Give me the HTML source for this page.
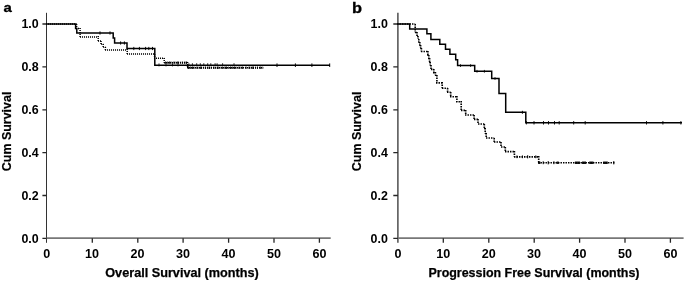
<!DOCTYPE html>
<html><head><meta charset="utf-8">
<style>
html,body{margin:0;padding:0;background:#fff;}
body{width:685px;height:281px;overflow:hidden;}
svg{display:block;filter:grayscale(1);}
text{font-family:"Liberation Sans",sans-serif;font-weight:bold;fill:#000;}
.lb{font-size:12.4px;stroke:#000;stroke-width:0.25;}
.yl{font-size:13.6px;stroke:#000;stroke-width:0.2;}
.tk{font-size:12.7px;}
.ax{fill:none;}
.va{stroke:#333;stroke-width:1.05;}
.vb{stroke:#3a3a3a;stroke-width:1.35;}
.ha{stroke:#777;stroke-width:1.6;}
.tm{stroke:#262626;stroke-width:1.3;}
.s{stroke:#000;stroke-width:1.5;fill:none;stroke-linejoin:miter;}
.d{stroke:#000;stroke-width:1.5;fill:none;stroke-dasharray:1.05 0.95;}
.db{stroke-dasharray:1.45 1.05;stroke-width:1.65;}
.cb2{stroke:#000;stroke-width:2.4;fill:none;opacity:0.9;}
.cb{stroke:#000;stroke-width:2.4;fill:none;stroke-dasharray:1.3 0.9 0.8 0.7 1.8 1 0.7 1.2;opacity:0.9;}
.c2{stroke:#000;stroke-width:0.8;fill:none;}
.c{stroke:#000;stroke-width:0.95;fill:none;}
</style></head><body>
<svg width="685" height="281" viewBox="0 0 685 281">
<rect width="685" height="281" fill="#fff"/>
<g opacity="0.999">

<!-- ===== Panel A ===== -->
<text x="3.4" y="12.4" font-size="13" textLength="8.3" lengthAdjust="spacingAndGlyphs" stroke="#000" stroke-width="0.3">a</text>
<g class="ax">
<path class="va" d="M46.5 12.8V242.8"/>
<path class="ha" d="M46.5 238.15H330.7"/>
<path class="tm" d="M42.4 24H46.5M42.4 66.85H46.5M42.4 109.9H46.5M42.4 152.55H46.5M42.4 195.5H46.5M42.4 238.4H46.5"/>
<path class="tm" d="M92.3 238.2V242.8M137.8 238.2V242.8M183.1 238.2V242.8M228.6 238.2V242.8M274 238.2V242.8M319.4 238.2V242.8"/>
</g>
<g class="tk" text-anchor="end">
<text x="38.7" y="28.2" textLength="17.3" lengthAdjust="spacingAndGlyphs">1.0</text>
<text x="38.7" y="71" textLength="17.3" lengthAdjust="spacingAndGlyphs">0.8</text>
<text x="38.7" y="113.8" textLength="17.3" lengthAdjust="spacingAndGlyphs">0.6</text>
<text x="38.7" y="156.7" textLength="17.3" lengthAdjust="spacingAndGlyphs">0.4</text>
<text x="38.7" y="199.6" textLength="17.3" lengthAdjust="spacingAndGlyphs">0.2</text>
<text x="38.7" y="242.6" textLength="17.3" lengthAdjust="spacingAndGlyphs">0.0</text>
</g>
<g class="tk" text-anchor="middle">
<text x="46.8" y="258" textLength="7" lengthAdjust="spacingAndGlyphs">0</text>
<text x="92" y="258" textLength="14" lengthAdjust="spacingAndGlyphs">10</text>
<text x="137.4" y="258" textLength="14" lengthAdjust="spacingAndGlyphs">20</text>
<text x="183" y="258" textLength="14" lengthAdjust="spacingAndGlyphs">30</text>
<text x="228.4" y="258" textLength="14" lengthAdjust="spacingAndGlyphs">40</text>
<text x="273.9" y="258" textLength="14" lengthAdjust="spacingAndGlyphs">50</text>
<text x="319.4" y="258" textLength="14" lengthAdjust="spacingAndGlyphs">60</text>
</g>
<text class="lb" x="182" y="276.7" text-anchor="middle" textLength="153.5" lengthAdjust="spacingAndGlyphs">Overall Survival (months)</text>
<text class="yl" transform="translate(11.4,131.4) rotate(-90)" text-anchor="middle" textLength="79.6" lengthAdjust="spacingAndGlyphs">Cum Survival</text>

<path class="d" d="M46 24H76.6M76.6 24V28.5M76 28.5H80.1M80.1 28V36.9M80 36.9H98.2M98.2 36V41M98 41H101M101 41V44M101 44H103.2M103.2 44V47M103 47H105.4M105.4 47V49.9M105 49.9H127.2M127.2 49V54.1M127 54.1H154.6M154.6 54V58.2M154 58.2H164.2M164.2 58V62.8M164 62.8H187.6M187.6 62V67.8M187 67.8H263.3"/>
<path class="cb" d="M165 62.6H187.2"/>
<path class="cb" d="M188 67.8H243.2M245.4 67.8H246.6M248.5 67.8H258M259.5 67.8H263.3"/>
<path class="s" d="M46.5 24H75.6V28.5H76.8V33H113.2V38H114.6V43H127V48.5H154.8V65.2H330"/>
<path class="c" d="M100 31.4V34.6M110 31.4V34.6M120.6 41.4V44.6M124.4 41.4V44.6M133.8 46.9V50.1M139.4 46.9V50.1M145.6 46.9V50.1M148.8 46.9V50.1M152.5 46.9V50.1
M277 63.4V67M295.4 63.4V67M311.9 63.4V67M329.7 63.4V67"/>
<path class="c2" d="M159 63.4V66.4M166 63.4V66.4M172.5 63.4V66.4M178 63.4V66.4M188.9 63.2V66M192.4 63.2V66M196.7 63.2V66M200.3 63.2V66M203.8 63.2V66M207.7 63.2V66M210.8 63.2V66M215.1 63.2V66M217.1 63.2V66M222.6 63.2V66M234 63.2V66"/>

<!-- ===== Panel B ===== -->
<text x="351.9" y="12.5" font-size="14" textLength="10" lengthAdjust="spacingAndGlyphs" stroke="#000" stroke-width="0.3">b</text>
<g class="ax">
<path class="va vb" d="M397.9 12.8V242.8"/>
<path class="ha" d="M397.9 238.15H683.6"/>
<path class="tm" d="M393.3 24H397.9M393.3 66.85H397.9M393.3 109.9H397.9M393.3 152.55H397.9M393.3 195.5H397.9M393.3 238.4H397.9"/>
<path class="tm" d="M443.3 238.2V242.8M488.8 238.2V242.8M534.2 238.2V242.8M579.6 238.2V242.8M625 238.2V242.8M670.4 238.2V242.8"/>
</g>
<g class="tk" text-anchor="end">
<text x="387.8" y="28.2" textLength="17.3" lengthAdjust="spacingAndGlyphs">1.0</text>
<text x="387.8" y="71" textLength="17.3" lengthAdjust="spacingAndGlyphs">0.8</text>
<text x="387.8" y="113.8" textLength="17.3" lengthAdjust="spacingAndGlyphs">0.6</text>
<text x="387.8" y="156.7" textLength="17.3" lengthAdjust="spacingAndGlyphs">0.4</text>
<text x="387.8" y="199.6" textLength="17.3" lengthAdjust="spacingAndGlyphs">0.2</text>
<text x="387.8" y="242.6" textLength="17.3" lengthAdjust="spacingAndGlyphs">0.0</text>
</g>
<g class="tk" text-anchor="middle">
<text x="398" y="258" textLength="7" lengthAdjust="spacingAndGlyphs">0</text>
<text x="443.2" y="258" textLength="14" lengthAdjust="spacingAndGlyphs">10</text>
<text x="488.8" y="258" textLength="14" lengthAdjust="spacingAndGlyphs">20</text>
<text x="534.1" y="258" textLength="14" lengthAdjust="spacingAndGlyphs">30</text>
<text x="579.5" y="258" textLength="14" lengthAdjust="spacingAndGlyphs">40</text>
<text x="625" y="258" textLength="14" lengthAdjust="spacingAndGlyphs">50</text>
<text x="670.6" y="258" textLength="14" lengthAdjust="spacingAndGlyphs">60</text>
</g>
<text class="lb" x="534" y="276.7" text-anchor="middle" textLength="211" lengthAdjust="spacingAndGlyphs">Progression Free Survival (months)</text>
<text class="yl" transform="translate(360.9,131.4) rotate(-90)" text-anchor="middle" textLength="79.6" lengthAdjust="spacingAndGlyphs">Cum Survival</text>

<path class="d db" d="M397 24H415.2M415.2 24V32.3M415 32.3H417M417 32V36M417 36H418M418 36V39M418 39H418.8M418.8 39V42M418 42H419.8M419.8 42V45M419 45H420.6M420.6 45V48M420 48H421.4M421.4 48V51.5M421 51.5H427.9M427.9 51V55M427 55H428.8M428.8 55V58.5M428 58.5H429.6M429.6 58V62M429 62H430.2M430.2 62V65.5M430 65.5H431M431 65V69.3M431 69.3H433.8M433.8 69V72.6M433 72.6H435.4M435.4 72V75.2M435 75.2H436.9M436.9 75V82.8M436 82.8H442.2M442.2 82V88.2M442 88.2H447.6M447.6 88V92.2M447 92.2H450.7M450.7 92V96.7M450 96.7H456.9M456.9 96V101.7M456 101.7H461.2M461.2 101V110.4M461 110.4H465.7M465.7 110V115M465 115H474.1M474.1 115V119.3M474 119.3H478M478 119V124M478 124H484.3M484.3 124V128.5M484 128.5H485.2M485.2 128V133.5M485 133.5H486.2M486.2 133V138M486 138H494.2M494.2 138V142M494 142H501M501 142V147M501 147H505.3M505.3 147V151.6M505 151.6H514.4M514.4 151V156.8M514 156.8H538.7M538.7 156V162.7M538 162.7H614.6"/>
<path class="s" d="M397.9 24H409.7V29.1H426.9V33.8H430.9V39.5H439.8V44.2H445.5V49.2H449.9V54.2H455.7V59.8H457.6V65.6H474.7V71.3H491.7V78.5H499V93.5H505.7V112.3H525.8V122.8H682"/>
<path class="c" d="M522.4 110.8V113.8M526.4 121.2V124.4M534 121.1V124.5M543.5 121.1V124.5M548.5 121.1V124.5M554.5 121.1V124.5M559.2 121.1V124.5M573.7 121.1V124.5M585.2 121.1V124.5M646.5 121.1V124.5M662.9 121.1V124.5M680.9 121.1V124.5"/>
<path class="c2" d="M460.5 64.2V67M470.6 64.2V67M477 69.9V72.7M484.4 69.9V72.7M495 77.1V79.9"/>
<path class="c" d="M517 155.4V158.2M522.4 155.4V158.2M527.7 155.2V158.4M535.8 155.4V158.2"/>
<path class="c" d="M543.2 161.2V164.2M548.2 161V164.4M553.9 161.2V164.2M613.8 161V164.4"/>
<path class="cb2" d="M538.2 162.7H540.4M556.6 162.7H558.8M574.9 162.7H580M582 162.7H586M589.2 162.7H593.5M603.1 162.7H607.8"/>
</g>
</svg>
</body></html>
